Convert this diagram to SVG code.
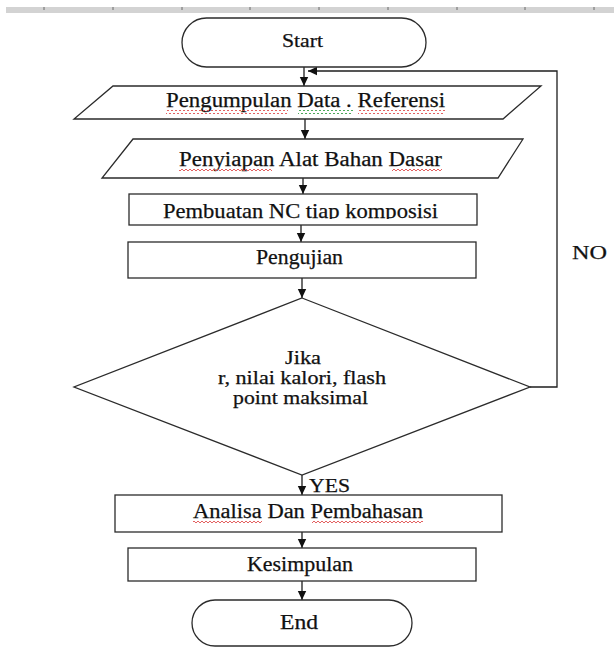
<svg xmlns="http://www.w3.org/2000/svg" width="614" height="664" viewBox="0 0 614 664">
<style>
.shape{fill:#ffffff;stroke:#2b2b2b;stroke-width:1.3}
.conn{fill:none;stroke:#1e1e1e;stroke-width:1.3}
.t{font-family:"Liberation Serif","Times New Roman",serif;fill:#111111;text-anchor:middle;stroke:#111111;stroke-width:0.25}
.tick{stroke:#6a6a6a;stroke-width:1}
</style>
<defs>
<marker id="arrow" markerUnits="userSpaceOnUse" markerWidth="11" markerHeight="11" refX="9" refY="5" orient="auto">
<path d="M0,0.8 L9,5 L0,9.2 Z" fill="#111111"/>
</marker>
<pattern id="sqRed" patternUnits="userSpaceOnUse" width="4" height="4">
<path d="M0,3 L2,1 L4,3" fill="none" stroke="#e05050" stroke-width="0.9"/>
</pattern>
<pattern id="sqGreen" patternUnits="userSpaceOnUse" width="4" height="4">
<path d="M0,3 L2,1 L4,3" fill="none" stroke="#3a9f4a" stroke-width="0.9"/>
</pattern>
<clipPath id="clipNC"><rect x="129" y="194" width="348" height="25"/></clipPath>
</defs>
<rect x="0" y="0" width="614" height="664" fill="#ffffff"/>
<g id="ruler">
<rect x="6" y="7" width="608" height="6" fill="#d3d3d3"/>
<line class="tick" x1="44" y1="7" x2="44" y2="10"/>
<line class="tick" x1="113" y1="7" x2="113" y2="10"/>
<line class="tick" x1="182" y1="7" x2="182" y2="10"/>
<line class="tick" x1="250" y1="7" x2="250" y2="10"/>
<line class="tick" x1="319" y1="7" x2="319" y2="10"/>
<line class="tick" x1="388" y1="7" x2="388" y2="10"/>
<line class="tick" x1="457" y1="7" x2="457" y2="10"/>
<line class="tick" x1="525" y1="7" x2="525" y2="10"/>
<line class="tick" x1="594" y1="7" x2="594" y2="10"/>
</g>
<g id="connectors">
<line class="conn" x1="304" y1="67" x2="304" y2="86" marker-end="url(#arrow)"/>
<path class="conn" d="M530,387 H557 V71 H308" marker-end="url(#arrow)"/>
<line class="conn" x1="305" y1="119" x2="305" y2="139" marker-end="url(#arrow)"/>
<line class="conn" x1="303" y1="178" x2="303" y2="194" marker-end="url(#arrow)"/>
<line class="conn" x1="301" y1="225" x2="301" y2="242" marker-end="url(#arrow)"/>
<line class="conn" x1="302" y1="278" x2="302" y2="298" marker-end="url(#arrow)"/>
<line class="conn" x1="302" y1="475" x2="302" y2="495" marker-end="url(#arrow)"/>
<line class="conn" x1="302" y1="532" x2="302" y2="548" marker-end="url(#arrow)"/>
<line class="conn" x1="302" y1="581" x2="302" y2="600" marker-end="url(#arrow)"/>
<text class="t" x="589.5" y="259" font-size="19" textLength="35" lengthAdjust="spacingAndGlyphs">NO</text>
<text class="t" x="329.5" y="492" font-size="19" textLength="41" lengthAdjust="spacingAndGlyphs">YES</text>
</g>
<g id="start">
<rect class="shape" x="182" y="18" width="244" height="49" rx="24.5" ry="24.5"/>
<text class="t" x="302.5" y="47" font-size="19" textLength="41" lengthAdjust="spacingAndGlyphs">Start</text>
</g>
<g id="pengumpulan">
<polygon class="shape" points="113,86 541,86 503,119 74,119"/>
<text class="t" x="305.5" y="107" font-size="20" textLength="279" lengthAdjust="spacingAndGlyphs">Pengumpulan  Data . Referensi</text>
<rect x="166" y="110" width="122" height="4" fill="url(#sqRed)"/>
<rect x="298" y="110" width="55" height="4" fill="url(#sqGreen)"/>
<rect x="358" y="110" width="87" height="4" fill="url(#sqRed)"/>
</g>
<g id="penyiapan">
<polygon class="shape" points="133,139 523,139 498,178 102,178"/>
<text class="t" x="310.5" y="166" font-size="20" textLength="263" lengthAdjust="spacingAndGlyphs">Penyiapan Alat Bahan Dasar</text>
<rect x="179" y="167" width="93" height="4" fill="url(#sqRed)"/>
<rect x="392" y="167" width="50" height="4" fill="url(#sqRed)"/>
</g>
<g id="pembuatan">
<rect class="shape" x="129" y="194" width="348" height="31"/>
<text class="t" x="300.5" y="218" font-size="21" textLength="275" lengthAdjust="spacingAndGlyphs" clip-path="url(#clipNC)">Pembuatan  NC tiap komposisi</text>
</g>
<g id="pengujian">
<rect class="shape" x="128" y="242" width="348" height="36"/>
<text class="t" x="299.5" y="264" font-size="20" textLength="87" lengthAdjust="spacingAndGlyphs">Pengujian</text>
</g>
<g id="decision">
<polygon class="shape" points="302,298 530,387 302,475 74,387"/>
<text class="t" x="303" y="364" font-size="18" textLength="36" lengthAdjust="spacingAndGlyphs">Jika</text>
<text class="t" x="302" y="384" font-size="18" textLength="168" lengthAdjust="spacingAndGlyphs">r, nilai kalori,  flash</text>
<text class="t" x="300.5" y="404" font-size="18" textLength="135" lengthAdjust="spacingAndGlyphs">point maksimal</text>
</g>
<g id="analisa">
<rect class="shape" x="115" y="495" width="387" height="37"/>
<text class="t" x="308" y="518" font-size="20" textLength="230" lengthAdjust="spacingAndGlyphs">Analisa Dan Pembahasan</text>
<rect x="193" y="520" width="69" height="4" fill="url(#sqRed)"/>
<rect x="312" y="520" width="111" height="4" fill="url(#sqRed)"/>
</g>
<g id="kesimpulan">
<rect class="shape" x="128" y="548" width="348" height="33"/>
<text class="t" x="300" y="571" font-size="20" textLength="106" lengthAdjust="spacingAndGlyphs">Kesimpulan</text>
</g>
<g id="end">
<rect class="shape" x="192" y="600" width="220" height="46" rx="23" ry="23"/>
<text class="t" x="299" y="629" font-size="20" textLength="38" lengthAdjust="spacingAndGlyphs">End</text>
</g>
</svg>
